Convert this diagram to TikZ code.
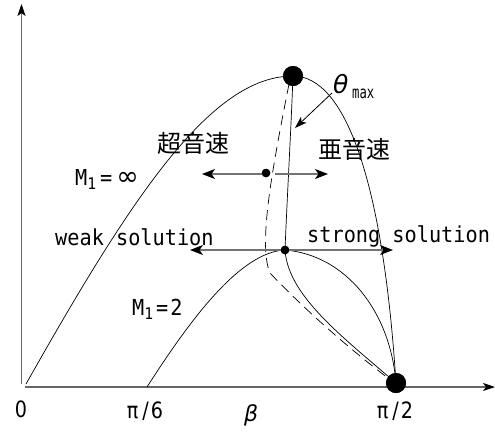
\documentclass[tikz,border=0pt]{standalone}
\usepackage{fontspec}
\usetikzlibrary{arrows.meta}
\newfontfamily\monof[FakeStretch=0.92]{DejaVu Sans Mono}
\newfontfamily\sansf{DejaVu Sans}
\newfontfamily\condf[FakeStretch=0.85]{DejaVu Sans}
\newfontfamily\cjk{Noto Sans CJK JP}
\begin{document}
\begin{tikzpicture}[x=1pt,y=-1pt,
  curve/.style={line width=0.7pt, black},
  dcurve/.style={line width=0.7pt, black, dash pattern=on 10pt off 6pt},
  axis/.style={line width=1.1pt, black!60, -{Stealth[length=12pt,width=8pt,inset=3pt,color=black]}},
  garrow/.style={line width=1.1pt, black!55, -{Stealth[length=13pt,width=10pt,inset=3.5pt,color=black]}},
  tharrow/.style={line width=0.8pt, black, -{Stealth[length=12pt,width=8pt,inset=3pt]}},
  bigdot/.style={circle, fill=black, inner sep=0pt, minimum size=20pt},
  smalldot/.style={circle, fill=black, inner sep=0pt, minimum size=8.5pt},
  lbl/.style={inner sep=0pt, anchor=base west},
  mono/.style={font=\monof\fontsize{22}{22}\selectfont},
  tick/.style={inner sep=0pt, anchor=base, font=\condf\fontsize{22.5}{22.5}\selectfont},
  cj/.style={inner sep=0pt, anchor=center, font=\cjk\fontsize{24}{24}\selectfont},
]
\useasboundingbox (0,0) rectangle (495,432);
% axes
\coordinate (yb) at (21.5,384);
\coordinate (yt) at (21.5,4);
\coordinate (xb) at (25,387);
\coordinate (xt) at (495,387);
\draw[axis] (yb) -- (yt);
\draw[axis] (xb) -- (xt);
% dots (positions)
\node[bigdot] (top) at (293,76) {};
\node[bigdot] (bot) at (396,383) {};
\node[smalldot] (s1) at (266,173) {};
\node[smalldot] (s2) at (285,250) {};
\coordinate (o) at (26,384);
\coordinate (p6) at (147,387);
% M1 = infinity curve
\draw[curve] (o) .. controls (130,200) and (210,76) .. (top.center)
  .. controls (345,76) and (383,180) .. (bot.center);
% M1 = 2 curve
\draw[curve] (p6) .. controls (190,320) and (240,252) .. (s2.center)
  .. controls (345,255) and (390,310) .. (bot.center);
% strong branch
\draw[curve] (top.center) .. controls (291,130) and (287,200) .. (s2.center);
\draw[curve] (s2.center) .. controls (288,295) and (340,335) .. (bot.center);
% sonic line (dashed)
\coordinate (d0) at (289,84);
\coordinate (d1) at (270,273);
\coordinate (d2) at (392,381);
\draw[dcurve] (d0) .. controls (272,170) and (258,245) .. (d1)
  .. controls (300,305) and (350,350) .. (d2);
% redraw dots on top
\node[bigdot] at (top) {};
\node[bigdot] at (bot) {};
% arrows
\coordinate (l1) at (202,174);
\coordinate (l1s) at (264,174);
\coordinate (r1s) at (275,174);
\coordinate (r1) at (328,174);
\draw[garrow] (l1s) -- (l1);
\draw[garrow] (r1s) -- (r1);
\coordinate (l2) at (190,250);
\coordinate (r2) at (393,250);
\draw[garrow] (s2.center) -- (l2);
\draw[garrow] (s2.center) -- (r2);
\node[smalldot] at (s2) {};
\node[smalldot] at (s1) {};
\coordinate (th) at (332,93);
\coordinate (thtip) at (295,128);
\draw[tharrow] (th) -- (thtip);
% labels
\node[cj] (sup) at (193,143) {超音速};
\node[cj] (sub) at (354,149) {亜音速};
\node[lbl, mono] (minf) at (75,185) {M\raisebox{-4pt}{\fontsize{16}{16}\selectfont 1}\hspace{4pt}=\hspace{4pt}{\sansf\fontsize{27}{27}\selectfont ∞}};
\node[lbl, mono] (mtwo) at (132,315) {M\raisebox{-4pt}{\fontsize{16}{16}\selectfont 1}\hspace{3pt}=\hspace{2pt}2};
\node[lbl, mono] (weak) at (55,245) {weak solution};
\node[lbl, mono] (strong) at (307,242) {strong solution};
\node[lbl, font=\sansf\itshape\fontsize{25}{25}\selectfont] (theta) at (333,93) {θ};
\node[lbl] (max) at (352,98) {\scalebox{0.78}[1]{\monof\fontsize{17}{17}\selectfont max}};
\node[tick] (zero) at (21,417) {0};
\node[tick] (pi6) at (145,418) {π\hspace{4pt}/\hspace{2pt}6};
\node[tick] (pi2) at (395,418) {π\hspace{4pt}/\hspace{2pt}2};
\node[lbl, font=\sansf\itshape\fontsize{22}{22}\selectfont] (beta) at (244,421) {β};
\end{tikzpicture}
\end{document}
